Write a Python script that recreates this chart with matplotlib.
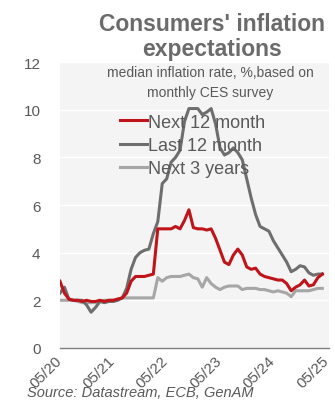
import numpy as np
import matplotlib
matplotlib.use('Agg')
import matplotlib.pyplot as plt
from matplotlib.transforms import ScaledTranslation

plt.rcParams['font.family'] = ['Liberation Sans', 'DejaVu Sans']

# Monthly readings, May 2020 to April 2025
next_12m = [2.8, 2.3, 2.05, 2.0, 2.0, 1.95, 2.0, 1.95, 1.95, 2.0,
            1.95, 2.0, 2.0, 2.05, 2.1, 2.3, 2.8, 3.0, 3.0, 3.0,
            3.05, 3.1, 5.0, 5.0, 5.0, 5.0, 5.1, 5.0, 5.35, 5.8,
            5.05, 5.0, 5.0, 4.95, 5.0, 4.6, 4.1, 3.6, 3.5, 3.9,
            4.15, 3.9, 3.4, 3.3, 3.35, 3.1, 3.0, 2.95, 2.9, 2.85,
            2.85, 2.7, 2.4, 2.55, 2.65, 2.85, 2.6, 2.65, 2.95, 3.1]
last_12m = [2.3, 2.55, 2.05, 2.0, 2.0, 2.0, 1.8, 1.5, 1.7, 1.95,
            1.9, 1.95, 1.95, 2.0, 2.1, 2.5, 3.3, 3.8, 4.0, 4.1,
            4.15, 4.8, 5.3, 6.9, 7.1, 7.8, 8.0, 8.3, 9.5, 10.05,
            10.05, 10.05, 9.8, 9.9, 10.05, 9.4, 8.4, 8.1, 8.2, 8.4,
            8.2, 7.9, 7.1, 6.3, 5.6, 5.1, 5.0, 4.9, 4.5, 4.2,
            3.9, 3.6, 3.2, 3.3, 3.45, 3.4, 3.15, 3.05, 3.1, 3.1]
next_3y = [2.0, 2.0, 2.0, 2.0, 1.95, 1.9, 1.9, 1.9, 1.9, 1.95,
           2.0, 2.0, 2.0, 2.05, 2.1, 2.1, 2.1, 2.1, 2.1, 2.1,
           2.1, 2.1, 2.95, 2.8, 2.95, 3.0, 3.0, 3.0, 3.05, 3.1,
           2.95, 2.9, 2.55, 2.95, 2.7, 2.55, 2.45, 2.55, 2.6, 2.6,
           2.6, 2.45, 2.5, 2.5, 2.5, 2.45, 2.45, 2.4, 2.35, 2.4,
           2.35, 2.3, 2.15, 2.4, 2.4, 2.4, 2.4, 2.45, 2.5, 2.5]

tick_labels = ['05/20', '05/21', '05/22', '05/23', '05/24', '05/25']
y_ticks = [0, 2, 4, 6, 8, 10, 12]

TEXT = '#595959'
months = np.arange(len(next_12m))

fig = plt.figure(figsize=(3.35, 4.1), dpi=100, facecolor='white')
ax = fig.add_axes([0.179, 0.149, 0.803, 0.697])
ax.set_facecolor('#f4f4f4')

ax.plot(months, next_12m, color='#c0141b', linewidth=2.2, label='Next 12 month', zorder=4)
ax.plot(months, last_12m, color='#6e6e6e', linewidth=2.2, label='Last 12 month', zorder=3)
ax.plot(months, next_3y, color='#a6a6a6', linewidth=2.2, label='Next 3 years', zorder=2)

ax.set_xlim(0, 60.5)
ax.set_ylim(0, 12)
ax.set_yticks(y_ticks)
ax.set_xticks(np.arange(0, 61, 12))
ax.set_xticklabels(tick_labels, rotation=45, ha='right', rotation_mode='anchor')
ax.tick_params(axis='both', length=0, labelsize=11, colors=TEXT)
ax.tick_params(axis='y', pad=14)
ax.tick_params(axis='x', pad=4)
# nudge the slanted date labels a little to the left
shift = ScaledTranslation(-4 / 72, 0, fig.dpi_scale_trans)
for lbl in ax.get_xticklabels():
    lbl.set_transform(lbl.get_transform() + shift)
ax.grid(axis='y', color='white', linewidth=1.0)
ax.set_axisbelow(True)
for side in ['left', 'right', 'top']:
    ax.spines[side].set_visible(False)
ax.spines['bottom'].set_color('#7f7f7f')
ax.spines['bottom'].set_linewidth(1.0)

fig.text(0.632, 0.968, "Consumers' inflation\nexpectations", ha='center', va='top',
         fontsize=16.5, fontweight='bold', color='#6b6b6b', linespacing=1.12)
fig.text(0.627, 0.838, "median inflation rate, %,based on\nmonthly CES survey", ha='center', va='top',
         fontsize=10, color=TEXT, linespacing=1.55)

ax.legend(loc='upper left', bbox_to_anchor=(0.33, 0.742), bbox_transform=fig.transFigure,
          frameon=False, fontsize=13, labelcolor=TEXT, handlelength=1.5,
          handletextpad=0.1, labelspacing=0.35, borderpad=0)

fig.text(0.08, 0.025, 'Source: Datastream, ECB, GenAM', ha='left', va='bottom',
         fontsize=10.5, style='italic', color=TEXT)

fig.savefig('out.png', dpi=100, facecolor='white')
